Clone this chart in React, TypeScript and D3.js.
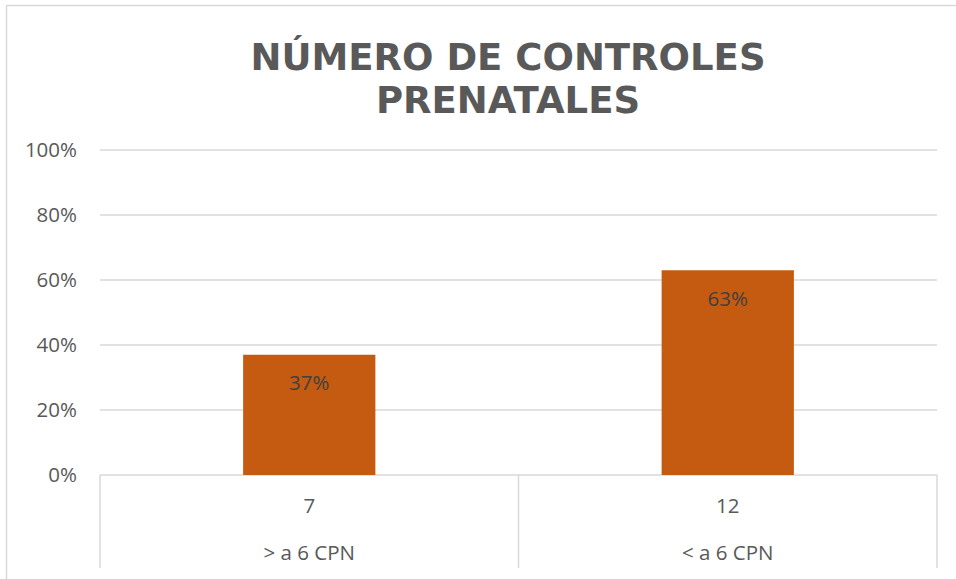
import React from "react";
import * as d3 from "d3";

const categories = ["> a 6 CPN", "< a 6 CPN"];
const counts = ["7", "12"];
const values = [0.37, 0.63];
const yTicks = [0, 0.2, 0.4, 0.6, 0.8, 1.0];
const titleLines = ["NÚMERO DE CONTROLES", "PRENATALES"];

const W = 956;
const H = 579;
const left = 100;
const right = 937;
const top = 150;
const bottom = 475;

export default function App() {
  const x = d3.scaleBand<string>().domain(categories).range([left, right]).paddingInner(0).paddingOuter(0);
  const y = d3.scaleLinear().domain([0, 1]).range([bottom, top]);
  const barW = x.bandwidth() * 0.316;
  const fmt = d3.format(".0%");
  const font = "'Open Sans', 'Noto Sans', sans-serif";
  const grid = "#d9d9d9";
  const fs = 20.5;
  const sepXs = [left, ...categories.map((c) => (x(c) as number) + x.bandwidth())];

  return (
    <svg width={W} height={H} style={{ position: "absolute", left: 0, top: 0, background: "#fff" }}>
      <rect x={0} y={0} width={W} height={H} fill="#fff" />
      {/* outer border */}
      <line x1={6.5} x2={956} y1={5.5} y2={5.5} stroke={grid} strokeWidth={1.5} />
      <line x1={6.5} x2={6.5} y1={5.5} y2={579} stroke={grid} strokeWidth={1.5} />

      {/* title */}
      {titleLines.map((t, i) => (
        <text
          key={t}
          x={508}
          y={69.5 + i * 43}
          textAnchor="middle"
          fill="#595959"
          fontFamily="'DejaVu Sans', sans-serif"
          fontWeight="bold"
          fontSize={37}
        >
          {t}
        </text>
      ))}

      {/* gridlines */}
      {yTicks.map((t) => (
        <line key={t} x1={left} x2={right} y1={y(t)} y2={y(t)} stroke={grid} strokeWidth={1.5} />
      ))}
      {/* y labels */}
      {yTicks.map((t) => (
        <text
          key={"l" + t}
          x={77}
          y={y(t)}
          dy="0.36em"
          textAnchor="end"
          fill="#595959"
          fontFamily={font}
          fontSize={fs}
        >
          {fmt(t)}
        </text>
      ))}

      {/* bars */}
      {categories.map((c, i) => {
        const cx = (x(c) as number) + x.bandwidth() / 2;
        return (
          <g key={c}>
            <rect x={cx - barW / 2} y={y(values[i])} width={barW} height={y(0) - y(values[i])} fill="#C55A11" />
            <text
              x={cx}
              y={y(values[i]) + 28}
              dy="0.36em"
              textAnchor="middle"
              fill="#404040"
              fontFamily={font}
              fontSize={fs}
            >
              {fmt(values[i])}
            </text>
            <text x={cx} y={506} dy="0.36em" textAnchor="middle" fill="#595959" fontFamily={font} fontSize={fs}>
              {counts[i]}
            </text>
            <text x={cx} y={553} dy="0.36em" textAnchor="middle" fill="#595959" fontFamily={font} fontSize={fs}>
              {categories[i]}
            </text>
          </g>
        );
      })}

      {/* category axis separators */}
      {sepXs.map((sx, i) => (
        <line key={"s" + i} x1={sx} x2={sx} y1={bottom} y2={568} stroke={grid} strokeWidth={1.5} />
      ))}
    </svg>
  );
}
